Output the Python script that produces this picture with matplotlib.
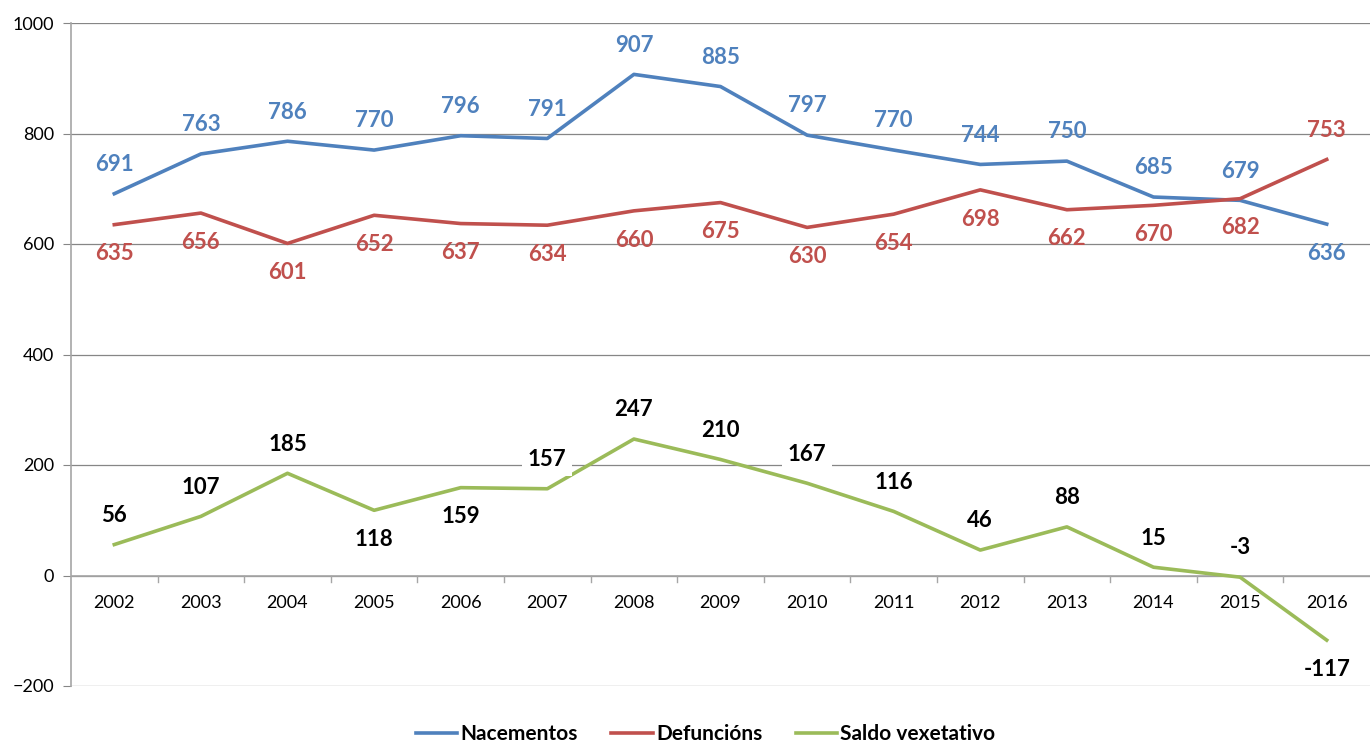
import numpy as np
import matplotlib.pyplot as plt

anos = ['2002', '2003', '2004', '2005', '2006', '2007', '2008', '2009',
        '2010', '2011', '2012', '2013', '2014', '2015', '2016']
nacementos = [691, 763, 786, 770, 796, 791, 907, 885, 797, 770, 744, 750, 685, 679, 636]
defuncions = [635, 656, 601, 652, 637, 634, 660, 675, 630, 654, 698, 662, 670, 682, 753]
saldo = [56, 107, 185, 118, 159, 157, 247, 210, 167, 116, 46, 88, 15, -3, -117]

plt.rcParams['font.family'] = ['Lato', 'DejaVu Sans']

fig = plt.figure(figsize=(13.7, 7.44), dpi=100)
ax = fig.add_axes([71 / 1370, 1 - 686 / 744, 1 - 71 / 1370, (686 - 23) / 744])

x = np.arange(len(anos))
c_nac = '#4F81BD'
c_def = '#C0504D'
c_sal = '#9BBB59'

ax.plot(x, nacementos, color=c_nac, lw=2.6, label='Nacementos', zorder=3)
ax.plot(x, defuncions, color=c_def, lw=2.6, label='Defuncións', zorder=3)
ax.plot(x, saldo, color=c_sal, lw=2.6, label='Saldo vexetativo', zorder=3)

lab_kw = dict(ha='center', va='center', fontsize=16, fontweight='bold', zorder=5)

for i, v in enumerate(nacementos):
    dy = -21 if i == len(anos) - 1 else 21
    ax.annotate(str(v), (i, v), xytext=(0, dy), textcoords='offset points',
                color=c_nac, **lab_kw)
for i, v in enumerate(defuncions):
    dy = 21 if i == len(anos) - 1 else -21
    ax.annotate(str(v), (i, v), xytext=(0, dy), textcoords='offset points',
                color=c_def, **lab_kw)
for i, v in enumerate(saldo):
    dy = -21 if anos[i] in ('2005', '2006', '2016') else 21
    bb = None
    if anos[i] in ('2007', '2010'):
        bb = dict(boxstyle='square,pad=0.25', fc='white', ec='none')
    ax.annotate(str(v), (i, v), xytext=(0, dy), textcoords='offset points',
                color='black', bbox=bb, **lab_kw)

ax.set_xlim(-0.5, len(anos) - 0.5)
ax.set_ylim(-200, 1000)
ax.set_yticks(np.arange(-200, 1001, 200))
ax.tick_params(axis='y', labelsize=13, length=6, color='#868686', pad=6)
ax.yaxis.grid(True, color='#868686', lw=0.9)
ax.set_axisbelow(True)

ax.set_xticks([])
ax.axhline(0, color='#A6A6A6', lw=1.2, zorder=2)
for i in range(1, len(anos)):
    ax.plot([i - 0.5, i - 0.5], [0, -12], color='#A6A6A6', lw=1.0, zorder=2, clip_on=False)
for i, a in enumerate(anos):
    ax.annotate(a, (i, 0), xytext=(0, -20), textcoords='offset points',
                ha='center', va='center', fontsize=13)

for s in ['top', 'right', 'bottom']:
    ax.spines[s].set_visible(False)
ax.spines['left'].set_color('#A6A6A6')
ax.spines['left'].set_linewidth(1.2)

leg = fig.legend(loc='lower center', bbox_to_anchor=(0.515, -0.025), ncol=3, frameon=False,
                 prop={'size': 15, 'weight': 'bold'}, handlelength=2.0, columnspacing=1.6,
                 handletextpad=0.15)

fig.savefig('out.png', dpi=100)
